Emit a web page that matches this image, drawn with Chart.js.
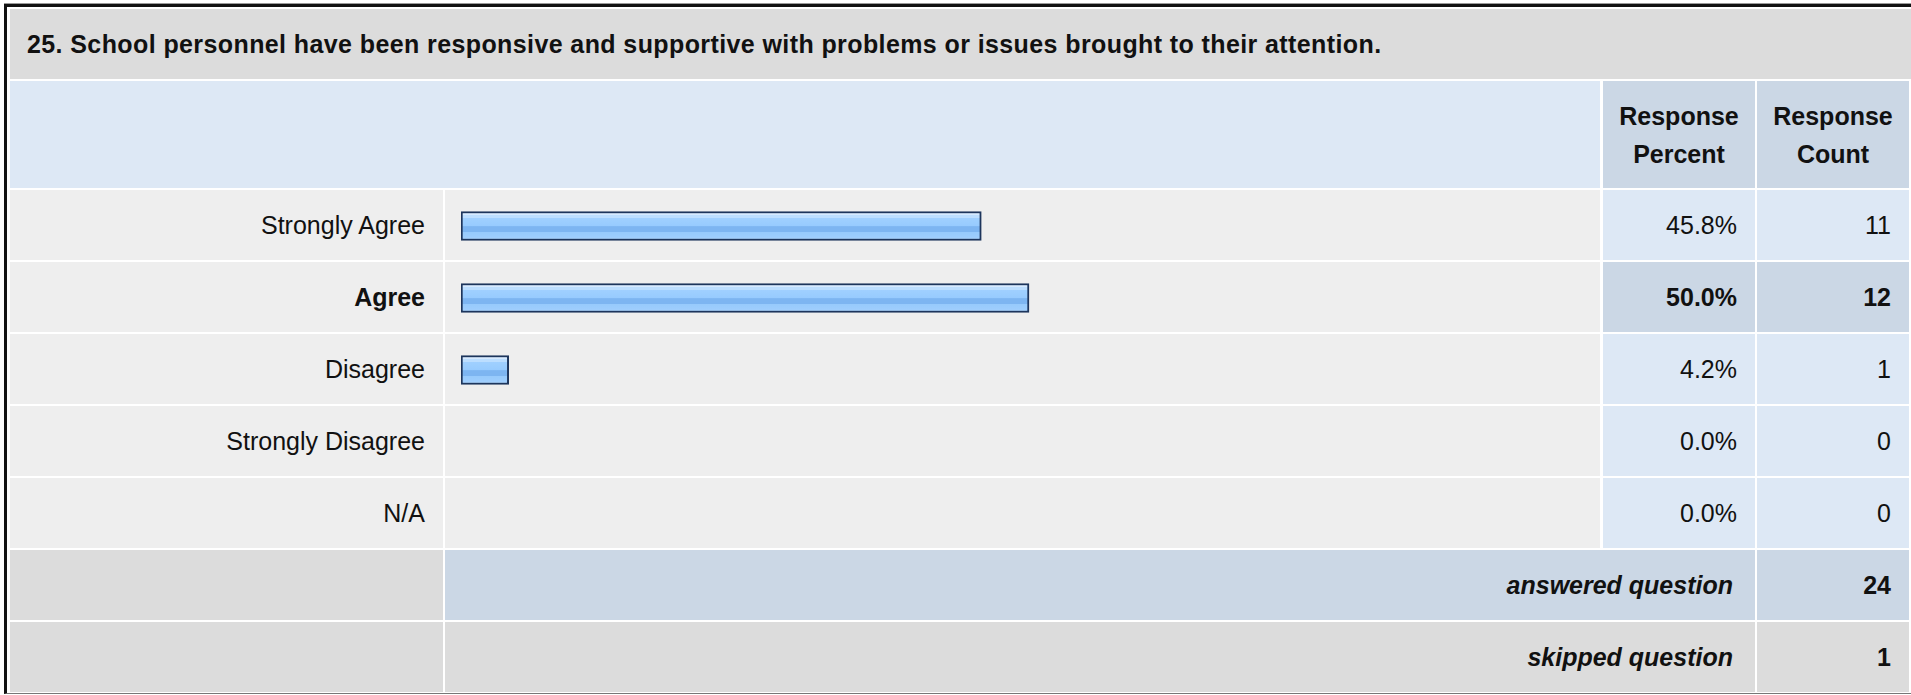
<!DOCTYPE html>
<html>
<head>
<meta charset="utf-8">
<script src="https://cdn.jsdelivr.net/npm/chart.js@4.4.1/dist/chart.umd.min.js"></script>
<style>
  html, body { margin: 0; padding: 0; background: #ffffff; width: 1911px; height: 695px; overflow: hidden; }
  body { position: relative; font-family: "Liberation Sans", Arial, Helvetica, sans-serif; color: #111; }
  .cell { position: absolute; box-sizing: border-box; display: flex; align-items: center; font-size: 25px; white-space: nowrap; }
  .r { justify-content: flex-end; padding-right: 18px; }
  .c { justify-content: center; text-align: center; }
  #frame { position: absolute; left: 4px; top: 4px; width: 1930px; height: 690px; box-sizing: border-box;
           border-top: 3px solid #111; border-left: 3px solid #111; border-bottom: 1px solid #777;
           box-shadow: 0 -1px 0 #999; }
  #chartWrap { position: absolute; left: 445px; top: 190px; width: 1155px; height: 360px; }
</style>
</head>
<body>
<div id="frame"></div>
<div id="table"></div>
<div id="chartWrap"><canvas id="c" width="1155" height="360"></canvas></div>
<script>
// ---- data ----
const questionTitle = "25. School personnel have been responsive and supportive with problems or issues brought to their attention.";
const categories = ["Strongly Agree", "Agree", "Disagree", "Strongly Disagree", "N/A"];
const responsePercent = [45.8, 50.0, 4.2, 0.0, 0.0];
const responseCount = [11, 12, 1, 0, 0];
const headerLabels = [["Response", "Percent"], ["Response", "Count"]];
const summaryLabels = ["answered question", "skipped question"];
const summaryValues = [24, 1];

// ---- table layout ----
const T = document.getElementById('table');
function cell(x, y, w, h, bg, cls, html, style) {
  const d = document.createElement('div');
  d.className = 'cell ' + (cls || '');
  d.style.left = x + 'px'; d.style.top = y + 'px';
  d.style.width = w + 'px'; d.style.height = h + 'px';
  d.style.background = bg;
  if (style) Object.assign(d.style, style);
  d.innerHTML = html || '';
  T.appendChild(d);
  return d;
}
const GRAY = '#dcdcdc', LIGHT = '#eeeeee', BLUE = '#dde8f5', BLUE2 = '#cbd7e5';
const colL = [10, 443], colB = [445, 1600], colP = [1603, 1755], colC = [1757, 1909];

cell(10, 9, 1901, 70, GRAY, '', '<b>' + questionTitle + '</b>', { paddingLeft: '17px', letterSpacing: '0.4px' });
cell(10, 81, colB[1] - 10, 107, BLUE, '', '');
headerLabels.forEach((lines, i) => {
  const col = i === 0 ? colP : colC;
  cell(col[0], 81, col[1] - col[0], 107, BLUE2, 'c', '<b>' + lines.join('<br>') + '</b>', { lineHeight: '38px' });
});
const maxIdx = responsePercent.indexOf(Math.max(...responsePercent));
categories.forEach((cat, i) => {
  const y = 190 + 72 * i;
  const bold = i === maxIdx;
  const wrap = s => bold ? '<b>' + s + '</b>' : s;
  cell(colL[0], y, colL[1] - colL[0], 70, LIGHT, 'r', wrap(cat));
  cell(colB[0], y, colB[1] - colB[0], 70, LIGHT, '', '');
  cell(colP[0], y, colP[1] - colP[0], 70, bold ? BLUE2 : BLUE, 'r', wrap(responsePercent[i].toFixed(1) + '%'));
  cell(colC[0], y, colC[1] - colC[0], 70, bold ? BLUE2 : BLUE, 'r', wrap(String(responseCount[i])));
});
summaryLabels.forEach((lab, i) => {
  const y = 550 + 72 * i;
  const bg = i === 0 ? BLUE2 : GRAY;
  cell(colL[0], y, colL[1] - colL[0], 70, GRAY, '', '');
  cell(colB[0], y, colP[1] - colB[0], 70, bg, 'r', '<b><i>' + lab + '</i></b>', { paddingRight: '22px' });
  cell(colC[0], y, colC[1] - colC[0], 70, bg, 'r', '<b>' + summaryValues[i] + '</b>');
});

// ---- bars via Chart.js ----
const gradientPlugin = {
  id: 'barGradient',
  beforeDatasetsDraw(chart) {
    const ctx = chart.ctx;
    const meta = chart.getDatasetMeta(0);
    meta.data.forEach((el, i) => {
      if (!(responsePercent[i] > 0)) { el.options.backgroundColor = 'rgba(0,0,0,0)'; return; }
      const top = el.y - el.height / 2, bot = el.y + el.height / 2;
      const g = ctx.createLinearGradient(0, top, 0, bot);
      const stops = [
        [0.00, '#d6eaff'], [0.12, '#d6eaff'], [0.12, '#bcdeff'], [0.22, '#bcdeff'],
        [0.22, '#a0d0ff'], [0.50, '#97cbfe'], [0.52, '#7db5f1'], [0.70, '#7db5f1'],
        [0.72, '#97cafc'], [0.88, '#9dcdfd'], [1.00, '#acd5fd']
      ];
      stops.forEach(s => g.addColorStop(s[0], s[1]));
      el.options.backgroundColor = g;
    });
  }
};

new Chart(document.getElementById('c'), {
  type: 'bar',
  data: {
    labels: categories,
    datasets: [{
      data: responsePercent,
      backgroundColor: '#95c9fd',
      borderColor: ctx => (ctx.raw > 0 ? '#1d355c' : 'rgba(0,0,0,0)'),
      borderWidth: ctx => (ctx.raw > 0 ? 2 : 0),
      borderSkipped: false,
      barThickness: 29
    }]
  },
  options: {
    indexAxis: 'y',
    responsive: false,
    animation: false,
    devicePixelRatio: 1,
    layout: { padding: { left: 16, right: 3, top: 0, bottom: 0 } },
    scales: {
      x: { display: false, min: 0, max: 100 },
      y: { display: false }
    },
    plugins: { legend: { display: false }, tooltip: { enabled: false } }
  },
  plugins: [gradientPlugin]
});
</script>
</body>
</html>
